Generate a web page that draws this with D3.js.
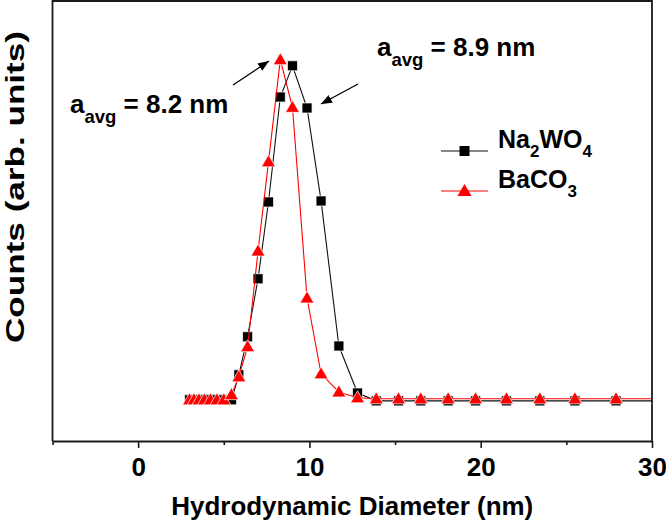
<!DOCTYPE html>
<html><head><meta charset="utf-8">
<script src="https://cdn.jsdelivr.net/npm/d3@7"></script>
<style>
body{margin:0;background:#fff}
svg{display:block}
text{font-family:"Liberation Sans",Arial,Helvetica,sans-serif;font-weight:bold;fill:#000}
</style>
</head><body>
<svg id="chart" width="666" height="521"></svg>
<script>
// ---- data ----
const sizes  = [3.0, 3.26, 3.55, 3.87, 4.22, 4.6, 5.0, 5.45, 5.88, 6.39, 7.0, 7.61, 8.3, 9.01, 9.86, 10.68, 11.72, 12.81, 13.9, 15.2, 16.5, 18.1, 19.7, 21.5, 23.45, 25.5, 27.9, 30.4];
const na2wo4 = [0, 0, 0, 0, 0, 0, 0, 0, 7.3, 18.4, 35.3, 57.7, 88.3, 97.4, 85.1, 58.0, 15.7, 2.0, -0.3, -0.3, -0.3, -0.3, -0.3, -0.3, -0.3, -0.3, -0.3, -0.3];
const baco3  = [0, 0, 0, 0, 0, 0, 0, 1.5, 6.7, 15.5, 43.4, 69.4, 99.2, 85.3, 29.7, 7.6, 2.3, 0.6, 0.3, 0.3, 0.3, 0.3, 0.3, 0.3, 0.3, 0.3, 0.3, 0.3];
const xTickValues = [-5, 0, 5, 10, 15, 20, 25, 30];
const xMajorTicks = [0, 10, 20, 30];
const xDomain = [-5, 30];
const yDomain = [-12, 116.3];
const xTitle = "Hydrodynamic Diameter (nm)";
const yTitle = "Counts (arb. units)";
const annotations = [
  {main: "a", sub: "avg", rest: " = 8.9 nm"},
  {main: "a", sub: "avg", rest: " = 8.2 nm"}
];

// ---- layout ----
const L = 52.5, R = 652, T = 1, B = 441;
const svg = d3.select("#chart");
const x = d3.scaleLinear().domain(xDomain).range([L, R]);
const y = d3.scaleLinear().domain(yDomain).range([B, T]);

svg.append("defs").append("clipPath").attr("id","plotclip")
  .append("rect").attr("x", L).attr("y", T).attr("width", R - L).attr("height", B - T);

// frame
svg.append("path")
  .attr("d", `M${L},${B} L${L},${T} L${R},${T} L${R},${B}`)
  .attr("fill","none").attr("stroke","#1a1a1a").attr("stroke-width",1.8);

// x axis
const xAxis = d3.axisBottom(x).tickValues(xTickValues)
  .tickFormat(d => xMajorTicks.includes(d) ? d3.format("d")(d) : "")
  .tickSizeOuter(0).tickSizeInner(7).tickPadding(10);
const gx = svg.append("g").attr("transform", `translate(0,${B})`).call(xAxis);
gx.select(".domain").attr("stroke","#1a1a1a").attr("stroke-width",1.8);
gx.selectAll(".tick line").attr("stroke","#1a1a1a").attr("stroke-width",1.6)
  .attr("y2", d => xMajorTicks.includes(d) ? 7 : 4);
gx.selectAll(".tick text").attr("font-size", 26).attr("font-family","Liberation Sans, Arial, sans-serif")
  .attr("font-weight","bold").attr("fill","#000");

// axis titles
svg.append("text").attr("x", (L + R) / 2).attr("y", 515).attr("text-anchor","middle")
  .attr("font-size", 25).attr("textLength", 362).attr("lengthAdjust","spacingAndGlyphs").text(xTitle);
svg.append("text").attr("transform", `translate(24,${187}) rotate(-90)`).attr("text-anchor","middle")
  .attr("font-size", 26).attr("textLength", 312).attr("lengthAdjust","spacingAndGlyphs").text(yTitle);

// series
const line = d3.line().x(d => x(d[0])).y(d => y(d[1]));
const blackPts = sizes.map((s, i) => [s, na2wo4[i]]);
const redPts = sizes.map((s, i) => [s, baco3[i]]);
const plot = svg.append("g").attr("clip-path","url(#plotclip)");

const triPath = "M0,-7 L7,5 L-7,5 Z";

plot.append("path").datum(blackPts).attr("d", line).attr("fill","none").attr("stroke","#111").attr("stroke-width",1.1);
plot.append("g").selectAll("path").data(blackPts).join("path")
  .attr("transform", d => `translate(${x(d[0])},${y(d[1])})`)
  .attr("d", d3.symbol(d3.symbolSquare, 100)())
  .attr("fill","#000").attr("stroke","#fff").attr("stroke-width",0.7);

plot.append("path").datum(redPts).attr("d", line).attr("fill","none").attr("stroke","#ff0000").attr("stroke-width",1.1);
plot.append("g").selectAll("path").data(redPts).join("path")
  .attr("transform", d => `translate(${x(d[0])},${y(d[1])})`)
  .attr("d", triPath)
  .attr("fill","#ff0000").attr("stroke","#fff").attr("stroke-width",0.7);

// legend
const leg = svg.append("g");
const legItems = [
  {parts: [["Na",0],["2",1],["WO",0],["4",1]], color:"#111", fill:"#000", sym:"sq", yy:151},
  {parts: [["BaCO",0],["3",1]], color:"#ff0000", fill:"#ff0000", sym:"tri", yy:191}
];
legItems.forEach(it => {
  leg.append("line").attr("x1",441).attr("x2",488).attr("y1",it.yy).attr("y2",it.yy)
    .attr("stroke",it.color).attr("stroke-width",1.1);
  const p = leg.append("path").attr("transform",`translate(464.5,${it.yy})`).attr("fill",it.fill);
  if (it.sym === "sq") p.attr("d", d3.symbol(d3.symbolSquare, 100)());
  else p.attr("d", triPath);
  const t = leg.append("text").attr("x",498).attr("y",it.yy + 6).attr("font-size",25);
  it.parts.forEach(([s, sub]) => {
    if (sub) t.append("tspan").attr("font-size",17).attr("dy",9).text(s);
    else t.append("tspan").attr("dy", t.selectAll("tspan").size() ? -9 : 0).text(s);
  });
});

// annotations
function annot(a, px, py) {
  const t = svg.append("text").attr("x", px).attr("y", py).attr("font-size", 26);
  t.append("tspan").text(a.main);
  t.append("tspan").attr("font-size", 18.5).attr("dy", 10).text(a.sub);
  t.append("tspan").attr("dy", -10).text(a.rest);
}
annot(annotations[0], 377, 56);
annot(annotations[1], 70, 113);

// arrows
const defs = svg.select("defs");
defs.append("marker").attr("id","ah").attr("viewBox","0 0 10 10").attr("refX",10).attr("refY",5)
  .attr("markerWidth",11).attr("markerHeight",11).attr("markerUnits","userSpaceOnUse").attr("orient","auto")
  .append("path").attr("d","M0,1 L10,5 L0,9 Z").attr("fill","#000");
svg.append("line").attr("x1",233).attr("y1",85).attr("x2",269).attr("y2",61)
  .attr("stroke","#000").attr("stroke-width",1.3).attr("marker-end","url(#ah)");
svg.append("line").attr("x1",358).attr("y1",84).attr("x2",321).attr("y2",104)
  .attr("stroke","#000").attr("stroke-width",1.3).attr("marker-end","url(#ah)");
</script>
</body></html>
